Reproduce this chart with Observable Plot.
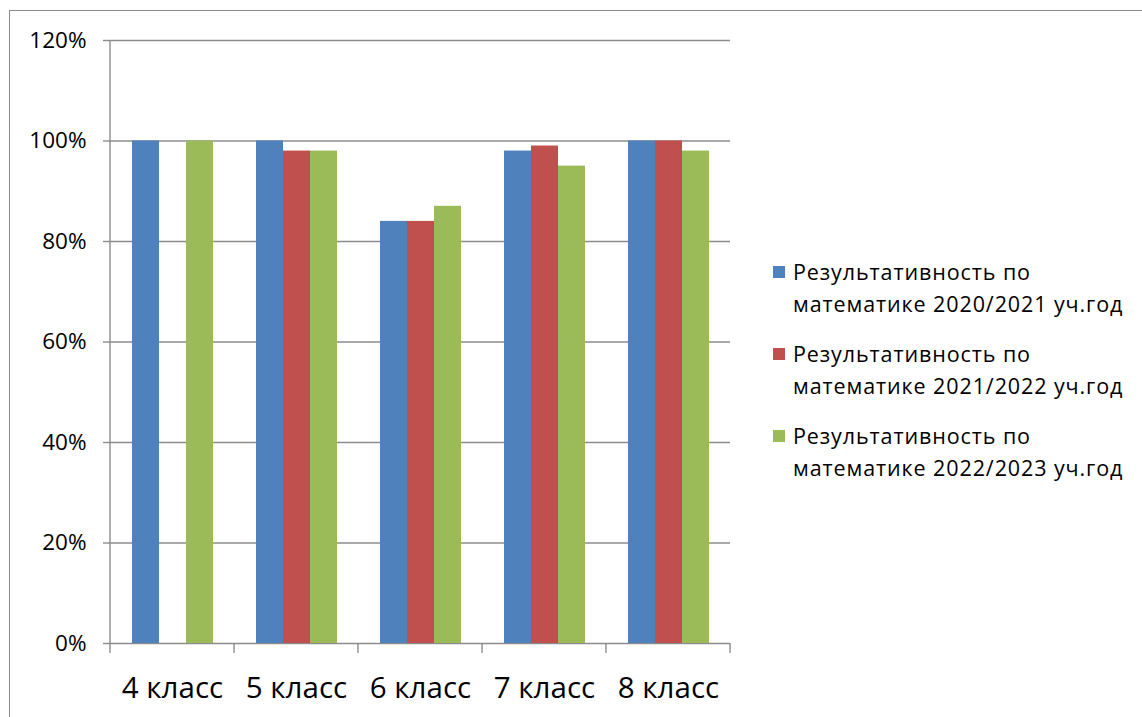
<!DOCTYPE html>
<html>
<head>
<meta charset="utf-8">
<script src="https://cdn.jsdelivr.net/npm/d3@7"></script>
<script src="https://cdn.jsdelivr.net/npm/@observablehq/plot@0.6"></script>
<style>
  html, body { margin: 0; padding: 0; background: #fff; }
  #wrap { position: relative; width: 1142px; height: 717px; overflow: hidden; font-family: "Open Sans", sans-serif; }
  #border { position: absolute; left: 9px; top: 10px; width: 1200px; height: 800px; border: 1.5px solid #8c8c8c; box-sizing: border-box; }
  #chart { position: absolute; left: 0; top: 0; }
  #legend { position: absolute; left: 773px; top: 256px; font-size: 21.5px; letter-spacing: 0.9px; color: #000; line-height: 32px; }
  .item { position: relative; padding-left: 20px; margin-bottom: 18px; white-space: nowrap; }
  .sw { position: absolute; left: 0; top: 10px; width: 12px; height: 12px; }
</style>
</head>
<body>
<div id="wrap">
  <div id="border"></div>
  <div id="chart"></div>
  <div id="legend"></div>
</div>
<script>
const classes = ["4 класс", "5 класс", "6 класс", "7 класс", "8 класс"];
const seriesNames = [
  "Результативность по математике 2020/2021 уч.год",
  "Результативность по математике 2021/2022 уч.год",
  "Результативность по математике 2022/2023 уч.год"
];
const legendLines = [
  ["Результативность по", "математике 2020/2021 уч.год"],
  ["Результативность по", "математике 2021/2022 уч.год"],
  ["Результативность по", "математике 2022/2023 уч.год"]
];
const values2020 = [100, 100, 84, 98, 100];
const values2021 = [null, 98, 84, 99, 100];
const values2022 = [100, 98, 87, 95, 98];
const colors = ["#4F81BD", "#C0504D", "#9BBB59"];
const yTicks = [0, 20, 40, 60, 80, 100, 120];

const allValues = [values2020, values2021, values2022];
const data = [];
classes.forEach((c, i) => {
  allValues.forEach((arr, s) => {
    if (arr[i] != null) data.push({cls: c, series: seriesNames[s], value: arr[i]});
  });
});

const plot = Plot.plot({
  width: 1142,
  height: 717,
  marginLeft: 110,
  marginRight: 412,
  marginTop: 40,
  marginBottom: 74,
  style: {fontFamily: "'Open Sans', sans-serif", background: "transparent", overflow: "visible"},
  fx: {domain: classes, padding: 0, label: null, axis: null},
  x: {domain: seriesNames, paddingInner: 0, paddingOuter: 0.77, axis: null},
  y: {domain: [0, 120], label: null},
  color: {domain: seriesNames, range: colors},
  marks: [
    Plot.gridY(yTicks, {stroke: "#8c8c8c", strokeOpacity: 1, strokeWidth: 1.4}),
    Plot.barY(data, {fx: "cls", x: "series", y: "value", fill: "series"}),
    Plot.axisY({ticks: yTicks, tickFormat: d => d + "%", tickSize: 7, tickPadding: 17, fontSize: 22.5, stroke: "#8c8c8c", strokeWidth: 1.4, color: "#000", label: null}),
    Plot.axisFx({anchor: "bottom", tickSize: 0, tickPadding: 34, fontSize: 29.5, label: null, color: "#000"})
  ]
});
document.getElementById("chart").appendChild(plot);

// axis lines and category boundary ticks, from the plot's own scales
const fx = plot.scale("fx");
const y = plot.scale("y");
const svg = d3.select(plot);
const y0 = y.apply(0), yTop = y.apply(120);
const x0 = fx.apply(classes[0]);
const bounds = classes.map(c => fx.apply(c)).concat([fx.apply(classes[classes.length - 1]) + fx.bandwidth]);
const g = svg.append("g").attr("stroke", "#8c8c8c").attr("stroke-width", 1.4);
g.append("line").attr("x1", x0).attr("x2", x0).attr("y1", yTop).attr("y2", y0);
bounds.forEach(b => {
  g.append("line").attr("x1", b).attr("x2", b).attr("y1", y0).attr("y2", y0 + 10);
});

// legend
const legend = document.getElementById("legend");
legendLines.forEach((lines, i) => {
  const item = document.createElement("div");
  item.className = "item";
  item.innerHTML = `<div class="sw" style="background:${colors[i]}"></div>${lines[0]}<br>${lines[1]}`;
  legend.appendChild(item);
});
</script>
</body>
</html>
